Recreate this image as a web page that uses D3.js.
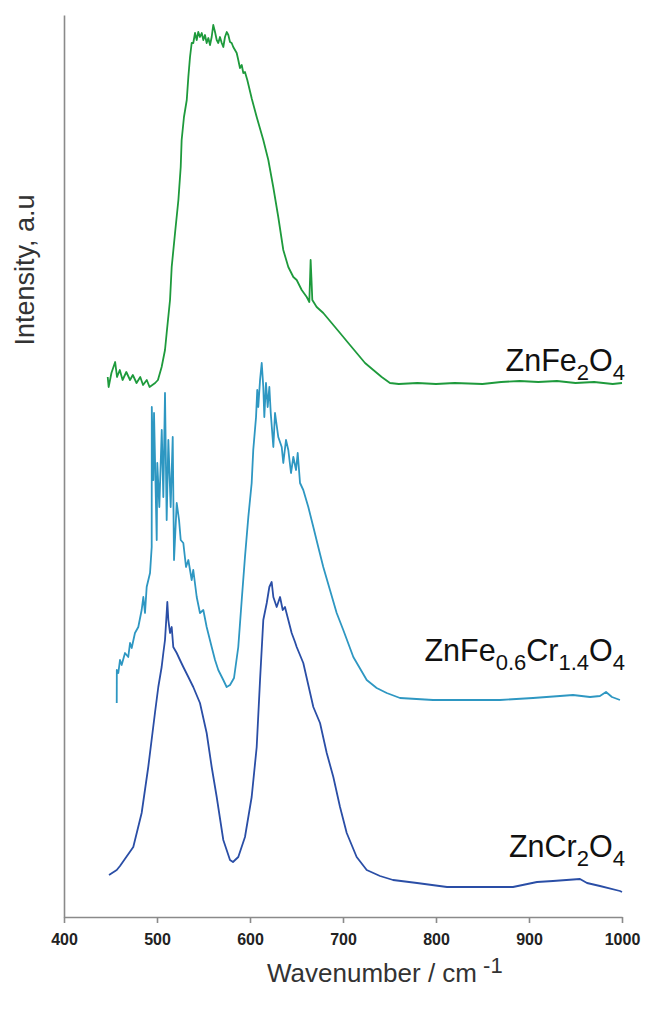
<!DOCTYPE html>
<html>
<head>
<meta charset="utf-8">
<script src="https://cdn.jsdelivr.net/npm/d3@7"></script>
<style>
  body { margin: 0; background: #fff; }
  svg { display: block; }
</style>
</head>
<body>
<svg id="raman-chart" width="649" height="1018"></svg>
<script>
// wavenumber ticks
const xTicks = [400, 500, 600, 700, 800, 900, 1000];

// ZnFe2O4 (top trace), [wavenumber, intensity a.u.]
const znFe2O4 = [
  [447, 540], [448, 530], [451, 544], [455, 555], [457, 540], [460, 547], [463, 537],
  [467, 545], [471, 537], [474, 542], [478, 534], [482, 540], [485, 532], [489, 537],
  [492, 530], [498, 534], [501, 537], [505, 550], [508.6, 567], [510.4, 584], [514, 617],
  [515.8, 650], [519.4, 684], [523, 717], [525.5, 750], [526.5, 777], [529, 800],
  [532, 817], [533.7, 840], [535.5, 860], [537.3, 874], [539, 874], [540.9, 884],
  [542.7, 877], [544.4, 885], [546.2, 880], [548.1, 884], [549.8, 877], [551.6, 882],
  [553.4, 874], [555.2, 879], [557, 872], [558.8, 880], [560.5, 892], [562.4, 885],
  [564.2, 877], [565.9, 874], [567.7, 880], [569.6, 874], [571.3, 870], [573.1, 880],
  [575, 885], [576.7, 882], [578.5, 875], [580.3, 874], [582, 870], [585.7, 864],
  [587.4, 857], [589.2, 849], [591.1, 852], [592.8, 844], [594.6, 845], [597.1, 837],
  [602, 818], [607.2, 800], [614.3, 777], [619.7, 757], [625, 730], [630.4, 700],
  [635.8, 667], [641.2, 650], [646.6, 640], [650.2, 637], [655.6, 627], [661, 620],
  [663.8, 615], [665.2, 657], [666, 640], [667, 617], [671.7, 610], [678.8, 604],
  [687.8, 594], [696.8, 584], [705.7, 574], [714.7, 564], [723.7, 554], [732.6, 547],
  [741.6, 540], [750.5, 534], [760, 533], [780, 534], [800, 533], [820, 534],
  [850, 533], [870, 535], [890, 536], [910, 535], [930, 536], [950, 534], [970, 535],
  [990, 533], [1000, 534]
];

// ZnFe0.6Cr1.4O4 (middle trace)
const znFeCrO4 = [
  [456.7, 214], [456.8, 247], [458.4, 244], [460.2, 257], [462, 252], [465.6, 264],
  [469.1, 260], [471, 274], [472.8, 269], [476.3, 284], [479.9, 290], [483.5, 307],
  [485.3, 320], [487.1, 304], [488.9, 330], [492.5, 344], [494.3, 370], [494.4, 510],
  [496, 437], [496.8, 504], [499.7, 377], [500.3, 454], [502.5, 410], [505.1, 487],
  [506.8, 420], [508.6, 524], [510.4, 397], [512.2, 477], [514.7, 410], [516.9, 480],
  [518.3, 357], [521.2, 414], [523.7, 397], [525.5, 377], [528.3, 374], [531.2, 350],
  [533.7, 357], [537.3, 337], [539, 347], [542.7, 320], [546.2, 304], [549.8, 307],
  [553.4, 290], [558.8, 270], [562.4, 257], [565.9, 247], [571.3, 237], [574.9, 230],
  [578.5, 232], [582.8, 239], [587.4, 270], [591.1, 317], [594.6, 360], [598.2, 400],
  [601.8, 434], [603.5, 467], [606.5, 500], [607.8, 527], [608.9, 510], [610.8, 537],
  [612.6, 554], [614.3, 530], [615.4, 500], [617.2, 534], [619, 510], [620.8, 530],
  [622.3, 504], [625.1, 470], [626.9, 504], [630.4, 480], [634.1, 470], [635.8, 454],
  [638.7, 477], [641.2, 467], [644.1, 444], [646.6, 460], [649.5, 447], [651.3, 464],
  [653.8, 434], [657.3, 427], [662.7, 410], [668.1, 390], [673.4, 370], [678.8, 350],
  [686, 327], [693.2, 304], [700.3, 287], [711.1, 260], [725.5, 237], [736.2, 229],
  [747, 224], [761.3, 219], [796.8, 217], [868.8, 217], [904.3, 219], [933.3, 221],
  [947.3, 222], [965.6, 220], [976.3, 221], [982.8, 225], [989.2, 220], [997.8, 217]
];

// ZnCr2O4 (bottom trace)
const znCr2O4 = [
  [448.4, 42], [456.7, 47], [460.2, 51], [474.5, 70], [483.5, 104], [490.6, 150],
  [497.8, 204], [501.4, 230], [505, 250], [506.8, 264], [508.6, 277], [510.4, 304],
  [511.1, 315], [512.2, 297], [514, 284], [515.8, 290], [517.5, 270], [521.2, 264],
  [524.7, 257], [528.3, 250], [533.7, 240], [539, 230], [546.2, 214], [553.4, 184],
  [558.8, 150], [564.2, 120], [571.3, 77], [578.5, 57], [581.7, 55], [587.4, 60],
  [594.6, 80], [601.8, 120], [607.2, 170], [610.8, 237], [614.3, 297], [618, 314],
  [620.8, 330], [623.3, 335], [625.1, 320], [628.7, 310], [632.3, 320], [635.2, 307],
  [637.6, 310], [641.2, 297], [644.8, 284], [648.4, 275], [650.2, 270], [657.3, 254],
  [668.1, 210], [675.3, 194], [682.5, 164], [689.6, 140], [696.8, 110], [704, 84],
  [714.7, 60], [725.5, 47], [739.8, 41], [753.8, 37], [779.6, 34], [811.8, 30],
  [882.8, 30], [908.6, 35], [925.8, 36], [954.8, 38], [962.4, 34], [976.3, 31],
  [997.8, 26], [1000, 25]
];

const series = [
  { data: znFe2O4, color: '#1e9a3c', label: [['ZnFe', 0], ['2', 1], ['O', 0], ['4', 1]] },
  { data: znFeCrO4, color: '#2e97c2', label: [['ZnFe', 0], ['0.6', 1], ['Cr', 0], ['1.4', 1], ['O', 0], ['4', 1]] },
  { data: znCr2O4, color: '#2a4ea6', label: [['ZnCr', 0], ['2', 1], ['O', 0], ['4', 1]] }
];
const labelBaselines = [371, 661, 857];

const width = 649;
const height = 1018;
const margin = { top: 15, right: 27, bottom: 101, left: 64 };
const chartWidth = width - margin.left - margin.right;
const chartHeight = height - margin.top - margin.bottom;

const svg = d3.select('#raman-chart');
const g = svg.append('g')
    .attr('transform', `translate(${margin.left}, ${margin.top})`);

const xScale = d3.scaleLinear()
    .domain([400, 1000])
    .range([0, chartWidth]);

const yScale = d3.scaleLinear()
    .domain([0, 902])
    .range([chartHeight, 0]);

// traces
const line = d3.line()
    .x(d => xScale(d[0]))
    .y(d => yScale(d[1]));

g.selectAll('path.trace')
    .data(series)
    .enter()
    .append('path')
    .attr('class', 'trace')
    .attr('d', d => line(d.data))
    .attr('fill', 'none')
    .attr('stroke', d => d.color)
    .attr('stroke-width', 1.8)
    .attr('stroke-linejoin', 'round');

// x axis
const xAxis = g.append('g')
    .attr('transform', `translate(0, ${chartHeight})`)
    .call(d3.axisBottom(xScale).tickValues(xTicks).tickFormat(d3.format('d'))
        .tickSize(6).tickSizeOuter(0).tickPadding(11));
xAxis.select('.domain').attr('stroke', '#8a8a8a').attr('stroke-width', 1.6);
xAxis.selectAll('.tick line').attr('stroke', '#8a8a8a').attr('stroke-width', 1.6);
xAxis.selectAll('.tick text')
    .attr('fill', '#222')
    .style('font-family', '"Liberation Sans", Arial, sans-serif')
    .style('font-size', '16px')
    .style('font-weight', 'bold');

// y axis, no ticks
const yAxis = g.append('g')
    .call(d3.axisLeft(yScale).tickValues([]).tickSizeOuter(0));
yAxis.select('.domain').attr('stroke', '#8a8a8a').attr('stroke-width', 1.6);

// series labels
series.forEach((s, i) => {
    const t = svg.append('text')
        .attr('x', 625)
        .attr('y', labelBaselines[i])
        .attr('text-anchor', 'end')
        .style('font-family', '"Liberation Sans", Arial, sans-serif')
        .style('font-size', '30.5px')
        .attr('fill', '#111');
    let shifted = false;
    s.label.forEach(([txt, sub]) => {
        const ts = t.append('tspan').text(txt);
        if (sub) ts.style('font-size', '22px');
        if (sub && !shifted) { ts.attr('dy', 9); shifted = true; }
        else if (!sub && shifted) { ts.attr('dy', -9); shifted = false; }
    });
});

// axis titles
const titleFont = '"Liberation Sans", Arial, sans-serif';
const xTitle = svg.append('text')
    .attr('x', 267)
    .attr('y', 982)
    .attr('text-anchor', 'start')
    .style('font-family', titleFont)
    .style('font-size', '26px')
    .attr('fill', '#333');
xTitle.append('tspan').text('Wavenumber / cm');
xTitle.append('tspan').text(' -1').attr('dy', -9).style('font-size', '22px');

svg.append('text')
    .attr('transform', 'rotate(-90)')
    .attr('x', -270)
    .attr('y', 34)
    .attr('text-anchor', 'middle')
    .style('font-family', titleFont)
    .style('font-size', '27px')
    .attr('fill', '#333')
    .text('Intensity, a.u');
</script>
</body>
</html>
